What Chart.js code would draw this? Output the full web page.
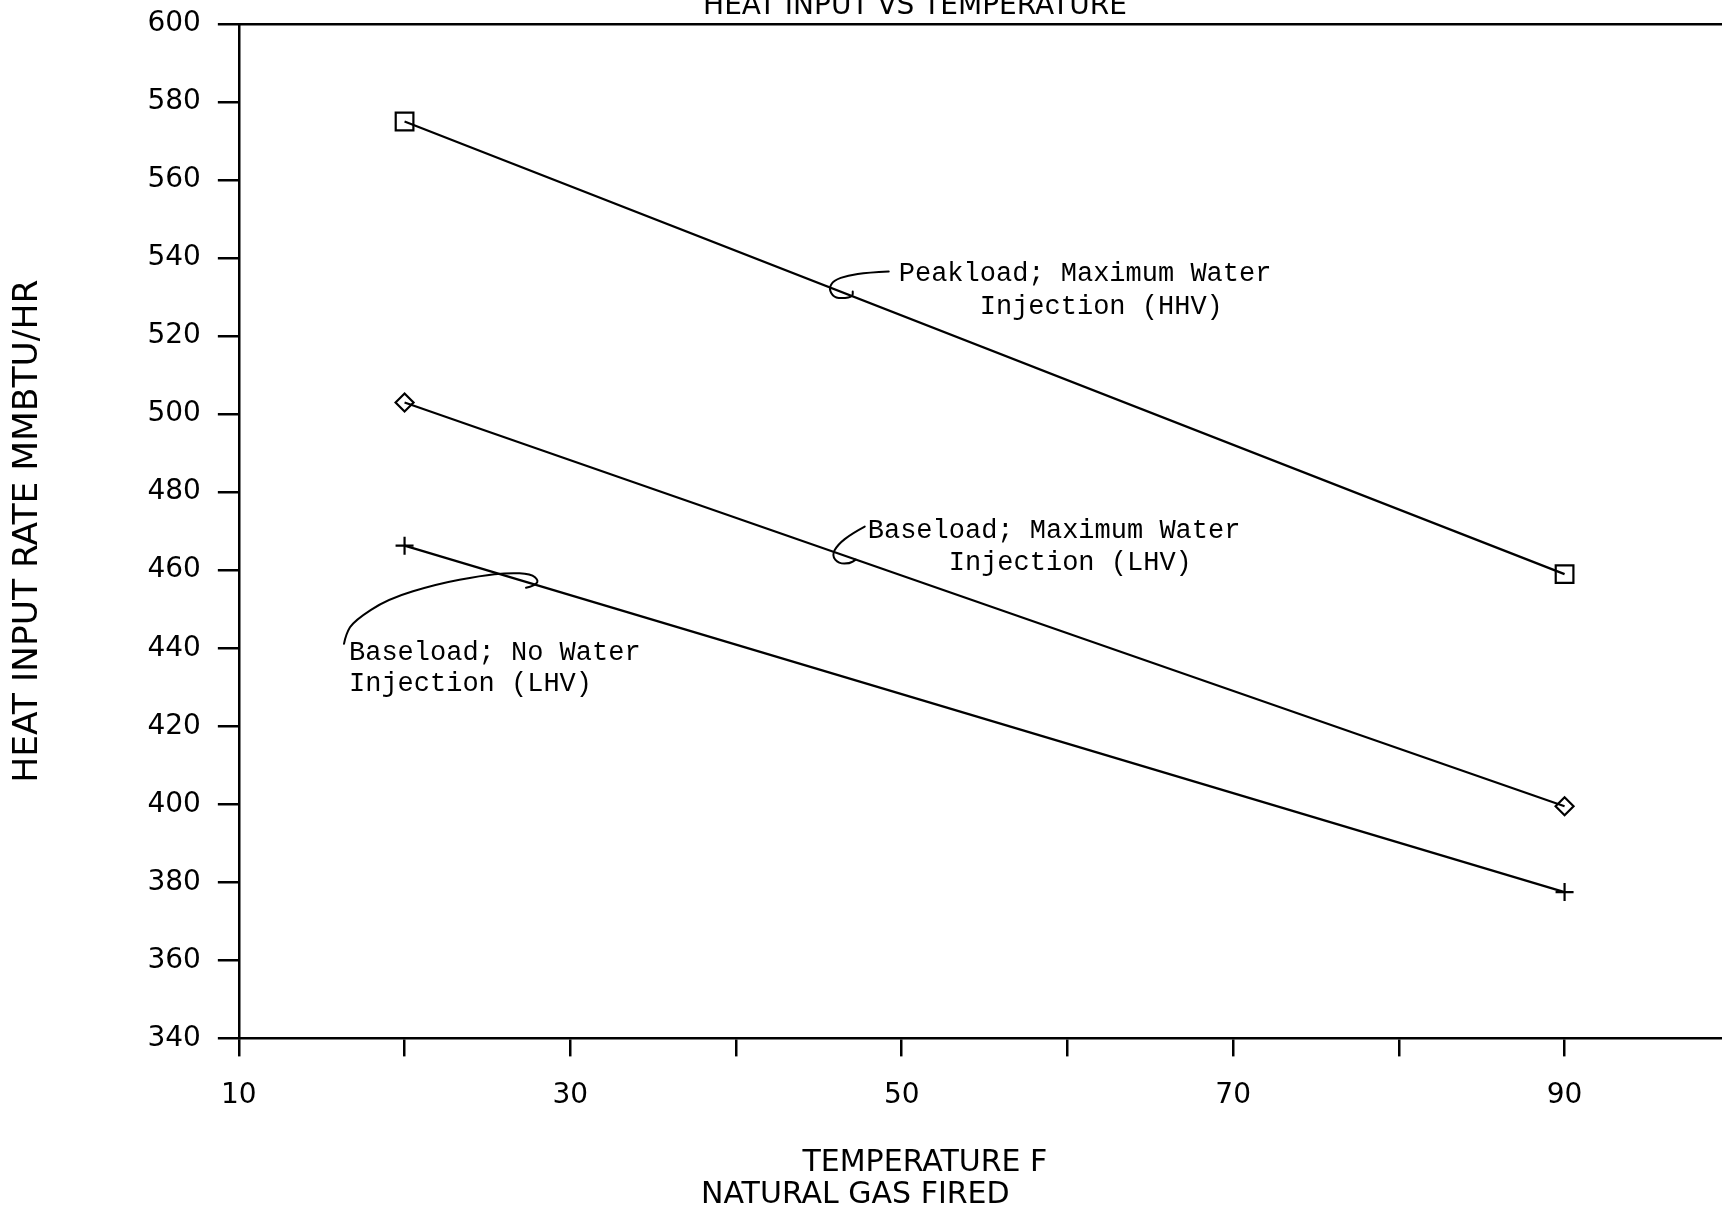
<!DOCTYPE html>
<html>
<head>
<meta charset="utf-8">
<script src="https://cdn.jsdelivr.net/npm/chart.js@4.4.1/dist/chart.umd.min.js"></script>
<style>
  html, body { margin: 0; padding: 0; background: #fff; }
  #wrap { width: 1722px; height: 1211px; position: relative; }
</style>
</head>
<body>
<div id="wrap"><canvas id="c"></canvas></div>
<script>
// ---------------- DATA ----------------
const temperatures = [20, 90];
const peakloadMaxWaterHHV = [575, 459];
const baseloadMaxWaterLHV = [503, 399.5];
const baseloadNoWaterLHV = [466.3, 377.5];

const seriesNames = [
  'Peakload; Maximum Water Injection (HHV)',
  'Baseload; Maximum Water Injection (LHV)',
  'Baseload; No Water Injection (LHV)'
];

const xTickValues = [10, 20, 30, 40, 50, 60, 70, 80, 90];
const xTickLabels = ['10', '', '30', '', '50', '', '70', '', '90'];
const yTickValues = [340, 360, 380, 400, 420, 440, 460, 480, 500, 520, 540, 560, 580, 600];
const yTickLabels = ['340', '360', '380', '400', '420', '440', '460', '480', '500', '520', '540', '560', '580', '600'];

const chartTitle = 'HEAT INPUT VS TEMPERATURE';
const xTitleLines = ['TEMPERATURE F', 'NATURAL GAS FIRED'];
const yTitle = 'HEAT INPUT RATE MMBTU/HR';

const annotationTexts = [
  ['Peakload; Maximum Water', '     Injection (HHV)'],
  ['Baseload; Maximum Water', '     Injection (LHV)'],
  ['Baseload; No Water', 'Injection (LHV)']
];
const annotationAnchorTemps = [46.2, 46.2, 26];

// ---------------- DRAWING LAYOUT (pixels relative to anchors) ----------------
const annotationLayout = [
  { text: [60, -17.5, 15.5],
    leader: [[50,-19.5],[29,-18.5],[9,-15.5],[-5,-10.5],[-10,-2.5],[-5,6.5],[5,7.5],[14,5.5],[14,0.5]] },
  { text: [29, -22.7, 9.3],
    leader: [[26,-27],[13,-20],[-1,-9],[-7,2],[0,10],[11,10],[17,6]] },
  { text: [-155, 77.5, 108.5],
    leader: [[-160,68.5],[-158,58.5],[-150,45.5],[-116,23.5],[-66,8.5],[-23,0.5],[4,-2.5],[27,-1.5],[35,5.5],[30,10.5],[22,12.5]] }
];

const seriesValues = [peakloadMaxWaterHHV, baseloadMaxWaterLHV, baseloadNoWaterLHV];
const pointStyles = ['rect', 'rectRot', 'cross'];
const pointRadii = [12.5, 9, 9];

function toPoints(vals) { return temperatures.map((t, i) => ({ x: t, y: vals[i] })); }
function valueAt(vals, t) {
  const f = (t - temperatures[0]) / (temperatures[1] - temperatures[0]);
  return vals[0] + f * (vals[1] - vals[0]);
}
function smoothPath(ctx, pts) {
  ctx.moveTo(pts[0][0], pts[0][1]);
  for (let i = 1; i < pts.length - 1; i++) {
    const mx = (pts[i][0] + pts[i + 1][0]) / 2, my = (pts[i][1] + pts[i + 1][1]) / 2;
    ctx.quadraticCurveTo(pts[i][0], pts[i][1], mx, my);
  }
  const l = pts[pts.length - 1];
  ctx.lineTo(l[0], l[1]);
}

const annotatePlugin = {
  id: 'annotate',
  afterDraw(chart) {
    const { ctx, chartArea, scales } = chart;
    const x = scales.x, y = scales.y;
    ctx.save();
    ctx.fillStyle = '#000';
    ctx.strokeStyle = '#000';

    // top title (partly cut off at the top edge)
    ctx.font = '28px "DejaVu Sans"';
    ctx.textAlign = 'center';
    ctx.textBaseline = 'alphabetic';
    ctx.fillText(chartTitle, x.getPixelForValue(50.8), chartArea.top - 10);

    // x-axis title lines
    ctx.font = '30px "DejaVu Sans"';
    ctx.textBaseline = 'middle';
    ctx.fillText(xTitleLines[0], x.getPixelForValue(51.4), chartArea.bottom + 125);
    ctx.fillText(xTitleLines[1], x.getPixelForValue(47.2), chartArea.bottom + 157);

    // series annotations with leader curls
    ctx.font = '27px "Liberation Mono"';
    ctx.textAlign = 'left';
    ctx.lineWidth = 2;
    ctx.lineJoin = 'round';
    ctx.lineCap = 'round';
    annotationTexts.forEach((lines, i) => {
      const t = annotationAnchorTemps[i];
      const ax = x.getPixelForValue(t);
      const ay = y.getPixelForValue(valueAt(seriesValues[i], t));
      const lay = annotationLayout[i];
      ctx.fillText(lines[0], ax + lay.text[0], ay + lay.text[1]);
      ctx.fillText(lines[1], ax + lay.text[0], ay + lay.text[2]);
      ctx.beginPath();
      smoothPath(ctx, lay.leader.map(p => [ax + p[0], ay + p[1]]));
      ctx.stroke();
    });
    ctx.restore();
  }
};

const datasets = seriesValues.map((vals, i) => ({
  label: seriesNames[i],
  data: toPoints(vals),
  borderColor: '#000',
  borderWidth: 2.2,
  tension: 0,
  fill: false,
  pointStyle: pointStyles[i],
  pointRadius: pointRadii[i],
  pointHoverRadius: pointRadii[i],
  pointBorderColor: '#000',
  pointBackgroundColor: 'rgba(0,0,0,0)',
  pointBorderWidth: 2.2
}));

new Chart(document.getElementById('c'), {
  type: 'line',
  data: { datasets },
  plugins: [annotatePlugin],
  options: {
    responsive: true,
    maintainAspectRatio: false,
    animation: false,
    layout: { autoPadding: false, padding: { top: 20, right: 0, bottom: 75, left: 0 } },
    plugins: { legend: { display: false }, tooltip: { enabled: false }, title: { display: false } },
    scales: {
      x: {
        type: 'linear', position: 'bottom', min: 10, max: 99.5,
        afterBuildTicks: s => { s.ticks = xTickValues.map(v => ({ value: v })); },
        ticks: {
          autoSkip: false, maxRotation: 0, color: '#000', padding: 23,
          font: { family: 'DejaVu Sans', size: 28 },
          callback: (v, idx) => xTickLabels[idx]
        },
        grid: { drawOnChartArea: false, drawTicks: true, tickLength: 18, color: '#000', lineWidth: 2.5 },
        border: { display: true, color: '#000', width: 2.5 }
      },
      x2: {
        type: 'linear', position: 'top', min: 10, max: 99.5,
        ticks: { display: false },
        grid: { drawOnChartArea: false, drawTicks: false },
        border: { display: true, color: '#000', width: 2.5 }
      },
      y: {
        type: 'linear', position: 'left', min: 340, max: 600,
        afterBuildTicks: s => { s.ticks = yTickValues.map(v => ({ value: v })); },
        ticks: {
          color: '#000', padding: 17,
          font: { family: 'DejaVu Sans', size: 28, lineHeight: 0.5 },
          callback: (v, idx) => yTickLabels[idx]
        },
        grid: { drawOnChartArea: false, drawTicks: true, tickLength: 21, color: '#000', lineWidth: 2.5 },
        border: { display: true, color: '#000', width: 2.5 },
        title: {
          display: true, text: yTitle, color: '#000',
          font: { family: 'DejaVu Sans', size: 34.5 },
          padding: { top: 7, bottom: 82 }
        }
      }
    }
  }
});
</script>
</body>
</html>
